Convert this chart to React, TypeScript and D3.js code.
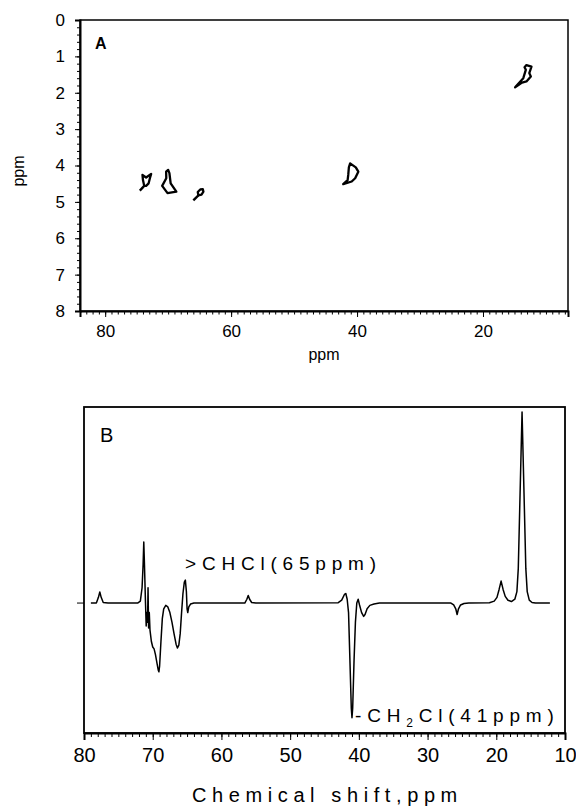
import React, { useRef, useEffect } from "react";
import * as d3 from "d3";

const W = 576;
const H = 807;
const FONT = "'Liberation Sans', Arial, sans-serif";

// panel A: cross peak outlines, points are [13C ppm, 1H ppm]
const peak74 = [[74.08, 4.26], [73.5, 4.33], [72.7, 4.23], [72.9, 4.35], [73.1, 4.49], [73.5, 4.56], [73.8, 4.56], [74.0, 4.4]];
const peak70 = [[70.32, 4.17], [70.0, 4.12], [69.8, 4.21], [69.6, 4.49], [68.7, 4.72], [70.1, 4.76], [70.95, 4.56], [70.3, 4.35]];
const peak65 = [[64.5, 4.65], [64.4, 4.72], [64.7, 4.8], [65.2, 4.82], [65.3, 4.73], [64.9, 4.66]];
const peak41 = [[41.1, 3.94], [40.2, 4.05], [39.8, 4.17], [40.3, 4.35], [40.85, 4.44], [42.2, 4.51], [41.5, 4.4], [41.4, 4.26], [41.3, 4.05]];
const peak13 = [[13.1, 1.24], [12.3, 1.28], [12.65, 1.46], [12.4, 1.55], [13.1, 1.69], [13.8, 1.72], [14.9, 1.85], [13.6, 1.6], [13.2, 1.37], [13.4, 1.3]];
const crossPeaks = [peak74, peak70, peak65, peak41, peak13];
const peakTails = [
  [[73.8, 4.56], [74.5, 4.69]],
  [[65.2, 4.82], [66.0, 4.96]],
];

const xTicksA = [80, 60, 40, 20];
const yTicksA = [0, 1, 2, 3, 4, 5, 6, 7, 8];
const xTicksB = [80, 70, 60, 50, 40, 30, 20, 10];

// panel B: 1D spectrum, [ppm, relative intensity]
const spectrum = [
  [79.0, 0], [78.2, 0], [77.9, 0.03], [77.7, 0.058], [77.5, 0.03], [77.2, 0.003], [76.5, 0],
  [72.2, 0], [71.8, 0.01], [71.55, 0.08], [71.4, 0.2], [71.3, 0.32], [71.2, 0.2], [71.05, 0],
  [70.95, -0.12], [70.85, -0.05], [70.75, -0.1], [70.68, 0.08], [70.6, -0.13], [70.5, -0.05],
  [70.4, -0.14], [70.2, -0.2], [70.0, -0.23], [69.8, -0.24], [69.6, -0.27], [69.4, -0.31],
  [69.2, -0.35], [69.1, -0.36], [69.0, -0.33], [68.8, -0.2], [68.6, -0.08], [68.4, -0.03],
  [68.1, -0.012], [67.8, -0.02], [67.5, -0.05], [67.2, -0.1], [66.9, -0.16], [66.6, -0.215],
  [66.4, -0.235], [66.2, -0.22], [66.0, -0.16], [65.8, -0.05], [65.6, 0.05], [65.4, 0.11],
  [65.25, 0.12], [65.1, 0.06], [65.0, -0.03], [64.9, -0.05], [64.75, -0.02], [64.5, -0.005],
  [64.0, 0], [56.6, 0], [56.3, 0.02], [56.1, 0.04], [55.9, 0.02], [55.6, 0.003], [55.0, 0],
  [43.0, 0.002], [42.5, 0.015], [42.1, 0.045], [41.9, 0.05], [41.7, 0.02], [41.5, -0.05],
  [41.3, -0.3], [41.1, -0.55], [41.0, -0.6], [40.9, -0.55], [40.7, -0.3], [40.5, -0.1],
  [40.3, 0], [40.1, 0.02], [39.9, -0.01], [39.6, -0.05], [39.3, -0.07], [39.1, -0.06],
  [38.8, -0.03], [38.4, -0.012], [37.8, -0.005], [37.0, 0], [26.6, 0], [26.2, -0.01],
  [25.9, -0.03], [25.7, -0.06], [25.5, -0.03], [25.2, -0.01], [24.7, -0.002], [24.0, 0],
  [21.0, 0.002], [20.3, 0.01], [19.9, 0.03], [19.6, 0.07], [19.3, 0.115], [19.0, 0.07],
  [18.7, 0.035], [18.3, 0.015], [17.8, 0.008], [17.3, 0.02], [17.0, 0.06], [16.8, 0.18],
  [16.25, 1.0], [15.7, 0.18], [15.5, 0.06], [15.2, 0.015], [14.8, 0.003], [14.3, 0], [12.2, 0],
];

function App() {
  const svgRef = useRef(null);

  useEffect(() => {
    const svg = d3.select(svgRef.current);
    svg.selectAll("*").remove();

    // ---------- panel A ----------
    const xA = d3.scaleLinear().domain([84, 6.5]).range([80, 568]);
    const yA = d3.scaleLinear().domain([0, 8]).range([20, 311]);
    const gA = svg.append("g");

    gA.append("rect")
      .attr("x", 80).attr("y", 20)
      .attr("width", 488).attr("height", 291)
      .attr("fill", "none").attr("stroke", "#000").attr("stroke-width", 1.5);

    const contourLine = d3.line()
      .x(d => xA(d[0]))
      .y(d => yA(d[1]))
      .curve(d3.curveLinearClosed);
    const tailLine = d3.line().x(d => xA(d[0])).y(d => yA(d[1]));

    gA.selectAll(".peak")
      .data(crossPeaks)
      .join("path")
      .attr("class", "peak")
      .attr("d", d => contourLine(d))
      .attr("fill", "none").attr("stroke", "#000")
      .attr("stroke-width", 2.3).attr("stroke-linejoin", "round");
    gA.selectAll(".tail")
      .data(peakTails)
      .join("path")
      .attr("class", "tail")
      .attr("d", d => tailLine(d))
      .attr("fill", "none").attr("stroke", "#000").attr("stroke-width", 2.3);

    // y axis, minor every 0.2
    gA.append("g")
      .attr("transform", "translate(80,0)")
      .call(d3.axisLeft(yA).tickValues(d3.range(0, 8.01, 0.2)).tickSize(3).tickFormat(() => ""))
      .call(g => g.select(".domain").remove());
    gA.append("g")
      .attr("transform", "translate(80,0)")
      .call(d3.axisLeft(yA).tickValues(yTicksA).tickSize(5).tickPadding(10).tickFormat(d3.format("d")))
      .call(g => g.select(".domain").attr("stroke-width", 2))
      .call(g => g.selectAll("text").attr("font-size", 17).attr("font-family", FONT));

    // x axis, minor every 1 ppm
    gA.append("g")
      .attr("transform", "translate(0,311)")
      .call(d3.axisBottom(xA).tickValues(d3.range(7, 84, 1)).tickSize(3.5).tickFormat(() => ""))
      .call(g => g.select(".domain").remove());
    gA.append("g")
      .attr("transform", "translate(0,311)")
      .call(d3.axisBottom(xA).tickValues(xTicksA).tickSize(6).tickPadding(8).tickFormat(d3.format("d")))
      .call(g => g.select(".domain").attr("stroke-width", 2))
      .call(g => g.selectAll("text").attr("font-size", 17).attr("font-family", FONT));

    gA.append("text")
      .attr("x", 95).attr("y", 49)
      .attr("font-family", FONT).attr("font-size", 16).attr("font-weight", "bold")
      .text("A");
    gA.append("text")
      .attr("transform", "translate(24,171) rotate(-90)")
      .attr("text-anchor", "middle")
      .attr("font-family", FONT).attr("font-size", 16)
      .text("ppm");
    gA.append("text")
      .attr("x", 324).attr("y", 360)
      .attr("text-anchor", "middle")
      .attr("font-family", FONT).attr("font-size", 16)
      .text("ppm");

    // ---------- panel B ----------
    const xB = d3.scaleLinear().domain([80, 10]).range([84, 565]);
    const yB = d3.scaleLinear().domain([-0.68, 1.026]).range([733, 407]);
    const gB = svg.append("g");

    gB.append("rect")
      .attr("x", 84).attr("y", 407)
      .attr("width", 481).attr("height", 326)
      .attr("fill", "none").attr("stroke", "#000").attr("stroke-width", 1.8);

    gB.append("line")
      .attr("x1", 77).attr("x2", 84)
      .attr("y1", yB(0)).attr("y2", yB(0))
      .attr("stroke", "#000").attr("stroke-width", 1);

    gB.append("g")
      .attr("transform", "translate(0,733)")
      .call(d3.axisBottom(xB).tickValues(d3.range(11, 80, 1)).tickSize(4).tickFormat(() => ""))
      .call(g => g.select(".domain").remove());
    gB.append("g")
      .attr("transform", "translate(0,733)")
      .call(d3.axisBottom(xB).tickValues(xTicksB).tickSize(7).tickPadding(8).tickFormat(d3.format("d")))
      .call(g => g.select(".domain").attr("stroke-width", 2))
      .call(g => g.selectAll("text").attr("font-size", 20).attr("font-family", FONT));

    const specLine = d3.line()
      .x(d => xB(d[0]))
      .y(d => yB(d[1]));
    gB.append("path")
      .datum(spectrum)
      .attr("d", specLine)
      .attr("fill", "none").attr("stroke", "#000")
      .attr("stroke-width", 1.5).attr("stroke-linejoin", "round");

    gB.append("text")
      .attr("x", 100).attr("y", 442)
      .attr("font-family", FONT).attr("font-size", 20)
      .text("B");

    gB.append("text")
      .attr("x", 185).attr("y", 570)
      .attr("font-family", FONT).attr("font-size", 19).attr("letter-spacing", 5.8)
      .text(">CHCl(65ppm)");

    const ch2 = gB.append("text")
      .attr("x", 355).attr("y", 722)
      .attr("font-family", FONT).attr("font-size", 19).attr("letter-spacing", 5.8);
    ch2.append("tspan").text("-CH");
    ch2.append("tspan").attr("font-size", 12).attr("dy", 5).text("2");
    ch2.append("tspan").attr("dy", -5).text("Cl(41ppm)");

    gB.append("text")
      .attr("x", 192).attr("y", 802)
      .attr("font-family", FONT).attr("font-size", 20).attr("letter-spacing", 5.6)
      .text("Chemical shift,ppm");
  }, []);

  return (
    <svg
      ref={svgRef}
      width={W}
      height={H}
      style={{ position: "absolute", left: 0, top: 0, background: "#fff" }}
    />
  );
}

export default App;
